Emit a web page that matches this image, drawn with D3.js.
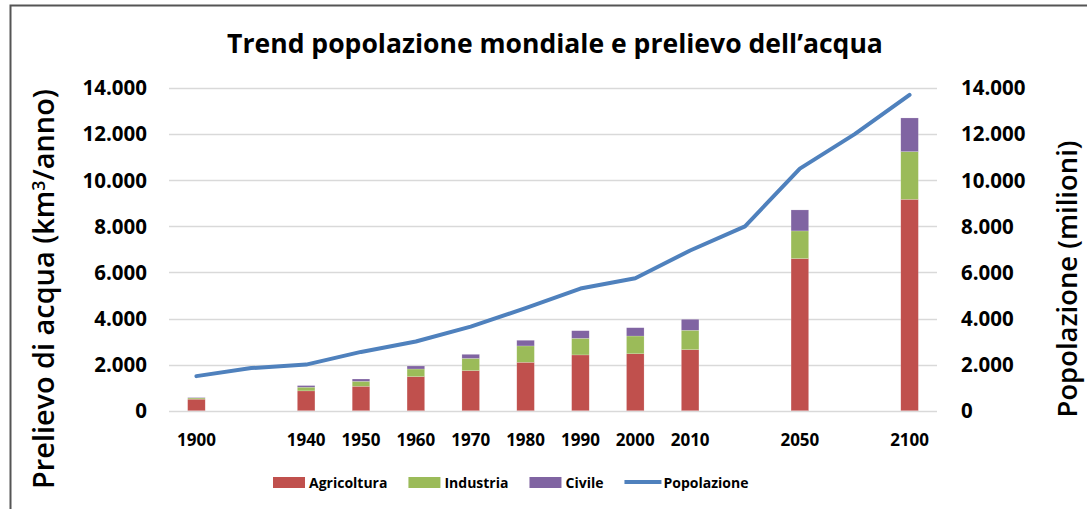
<!DOCTYPE html>
<html>
<head>
<meta charset="utf-8">
<script src="https://cdn.jsdelivr.net/npm/d3@7"></script>
<style>
  body { margin: 0; background: #fff; }
  text { font-family: "Open Sans", sans-serif; fill: #000; }
</style>
</head>
<body>
<div id="plot"></div>
<script>
// categories (blank slots keep the real spacing of the original chart)
var years = ["1900", "1920", "1940", "1950", "1960", "1970", "1980", "1990", "2000", "2010", "2030", "2050", "2075", "2100"];
var yearLabels = ["1900", "", "1940", "1950", "1960", "1970", "1980", "1990", "2000", "2010", "", "2050", "", "2100"];

// water withdrawal, km3/year (null = no bar)
var agricoltura = [500, null, 860, 1060, 1480, 1740, 2100, 2420, 2470, 2650, null, 6600, null, 9170];
var industria   = [50,  null, 160, 215,  330,  530,  710,  720,  770,  840,  null, 1200, null, 2070];
var civile      = [20,  null, 70,  100,  130,  175,  245,  330,  360,  475,  null, 910,  null, 1460];

// world population, millions
var popolazione = [1500, 1850, 2000, 2550, 3000, 3650, 4450, 5300, 5750, 6950, 8000, 10500, 12000, 13700];

var yTicks = [0, 2000, 4000, 6000, 8000, 10000, 12000, 14000];
var seriesNames = ["Agricoltura", "Industria", "Civile"];
var colors = {Agricoltura: "#c0504d", Industria: "#9bbb59", Civile: "#8064a2", Popolazione: "#4f81bd"};

var W = 1087, H = 509;
var fmt = d3.formatLocale({decimal: ",", thousands: ".", grouping: [3], currency: ["", "€"]}).format(",");

var svg = d3.select("#plot").append("svg")
  .attr("width", W).attr("height", H);

// frame
svg.append("path")
  .attr("d", "M10.5," + H + "V5.5H" + W)
  .attr("fill", "none")
  .attr("stroke", "#555")
  .attr("stroke-width", 2);

// scale text so that it is exactly the target width, returns the factor
function fit(sel, target) {
  var w = sel.node().getComputedTextLength();
  var fs = parseFloat(sel.style("font-size"));
  sel.style("font-size", (fs * target / w) + "px");
  return target / w;
}

var x = d3.scaleBand().domain(years).range([169, 937]).paddingInner(0.68).paddingOuter(0.34);
var y = d3.scaleLinear().domain([0, 14000]).range([410.7, 88]);

// grid
svg.append("g").selectAll("line")
  .data(yTicks).enter().append("line")
  .attr("x1", 169).attr("x2", 937)
  .attr("y1", function(d) { return Math.round(y(d)) + 0.5; })
  .attr("y2", function(d) { return Math.round(y(d)) + 0.5; })
  .attr("stroke", "#d9d9d9")
  .attr("stroke-width", 1.5);

// stacked bars
var table = years.map(function(yr, i) {
  return {year: yr, Agricoltura: agricoltura[i] || 0, Industria: industria[i] || 0, Civile: civile[i] || 0};
});
var stack = d3.stack().keys(seriesNames)(table);

svg.append("g").selectAll("g")
  .data(stack).enter().append("g")
  .attr("fill", function(d) { return colors[d.key]; })
  .selectAll("rect")
  .data(function(d) { return d.filter(function(p) { return p[1] > p[0]; }); })
  .enter().append("rect")
  .attr("x", function(d) { return x(d.data.year); })
  .attr("width", x.bandwidth())
  .attr("y", function(d) { return y(d[1]); })
  .attr("height", function(d) { return y(d[0]) - y(d[1]); })
  .attr("stroke", "rgba(255,255,255,0.35)")
  .attr("stroke-width", 0.5);

// population line (right axis, same 0-14.000 scale)
var line = d3.line()
  .x(function(d, i) { return x(years[i]) + x.bandwidth() / 2; })
  .y(function(d) { return y(d); });

svg.append("path")
  .attr("d", line(popolazione))
  .attr("fill", "none")
  .attr("stroke", colors.Popolazione)
  .attr("stroke-width", 4)
  .attr("stroke-linejoin", "round")
  .attr("stroke-linecap", "round");

// left tick labels
svg.append("g").selectAll("text")
  .data(yTicks).enter().append("text")
  .attr("x", 147)
  .attr("y", function(d) { return y(d); })
  .attr("dy", "0.36em")
  .attr("text-anchor", "end")
  .style("font-size", "20.5px")
  .style("font-weight", "bold")
  .text(function(d) { return fmt(d); });

// right tick labels
svg.append("g").selectAll("text")
  .data(yTicks).enter().append("text")
  .attr("x", 961)
  .attr("y", function(d) { return y(d); })
  .attr("dy", "0.36em")
  .attr("text-anchor", "start")
  .style("font-size", "20.5px")
  .style("font-weight", "bold")
  .text(function(d) { return fmt(d); });

// x labels
svg.append("g").selectAll("text")
  .data(years).enter().append("text")
  .attr("x", function(d) { return x(d) + x.bandwidth() / 2; })
  .attr("y", 445.5)
  .attr("text-anchor", "middle")
  .style("font-size", "17px")
  .style("font-weight", "bold")
  .text(function(d, i) { return yearLabels[i]; });

// title
var title = svg.append("text")
  .attr("x", 555).attr("y", 53)
  .attr("text-anchor", "middle")
  .style("font-size", "24px")
  .style("font-weight", "bold")
  .text("Trend popolazione mondiale e prelievo dell’acqua");
fit(title, 656);

// axis titles
var lt = svg.append("text")
  .attr("transform", "translate(54,289) rotate(-90)")
  .attr("text-anchor", "middle")
  .style("font-size", "26px")
  .style("font-weight", 600);
lt.append("tspan").text("Prelievo di acqua (km");
var sup = lt.append("tspan").attr("dy", -9).style("font-size", "16px").text("3");
lt.append("tspan").attr("dy", 9).text("/anno)");
var k = fit(lt, 400);
sup.style("font-size", (16 * k) + "px");

var rt = svg.append("text")
  .attr("transform", "translate(1077,279) rotate(-90)")
  .attr("text-anchor", "middle")
  .style("font-size", "26px")
  .style("font-weight", 600)
  .text("Popolazione (milioni)");
fit(rt, 277);

// legend
var legendNames = seriesNames.concat(["Popolazione"]);
var lx = 273;
legendNames.forEach(function(name) {
  var g = svg.append("g");
  if (name === "Popolazione") {
    g.append("line")
      .attr("x1", lx).attr("x2", lx + 37)
      .attr("y1", 482).attr("y2", 482)
      .attr("stroke", colors[name]).attr("stroke-width", 4);
    lx += 39;
  } else {
    g.append("rect")
      .attr("x", lx).attr("y", 477)
      .attr("width", 32).attr("height", 11)
      .attr("fill", colors[name]);
    lx += 36;
  }
  var t = g.append("text")
    .attr("x", lx).attr("y", 487.5)
    .style("font-size", "14px")
    .style("font-weight", "bold")
    .text(name);
  lx += t.node().getComputedTextLength() + 21;
});
</script>
</body>
</html>
